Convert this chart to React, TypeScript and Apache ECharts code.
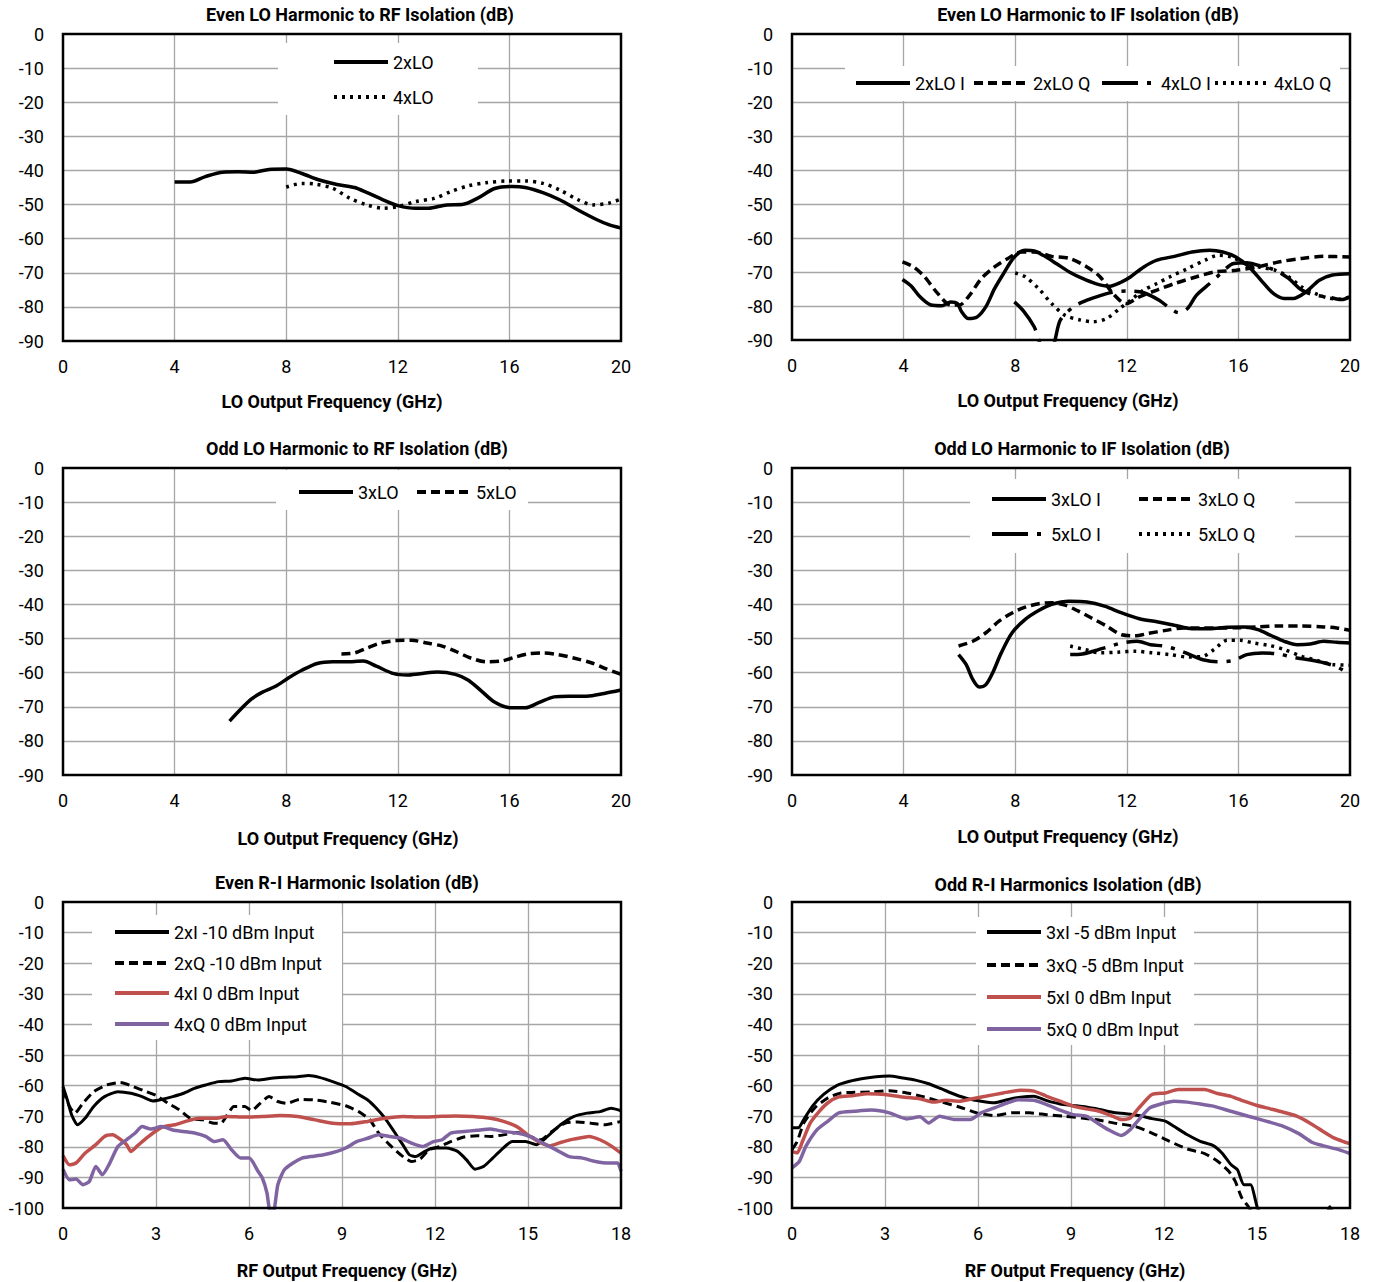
import React, { useEffect, useRef } from "react";
import * as echarts from "echarts";

type Pt = [number, number];

const FONT = "'Liberation Sans Narrow', 'Roboto', sans-serif";
const RED = "#C0504D";
const PURPLE = "#8064A2";
const GRIDC = "#A6A6A6";

// ---------- Chart titles / axis names ----------
const titles = [
  "Even LO Harmonic to RF Isolation (dB)",
  "Even LO Harmonic to IF Isolation (dB)",
  "Odd LO Harmonic to RF Isolation (dB)",
  "Odd LO Harmonic to IF Isolation (dB)",
  "Even R-I Harmonic Isolation (dB)",
  "Odd R-I Harmonics Isolation (dB)",
];
const xNames = [
  "LO Output Frequency (GHz)",
  "LO Output Frequency (GHz)",
  "LO Output Frequency (GHz)",
  "LO Output Frequency (GHz)",
  "RF Output Frequency (GHz)",
  "RF Output Frequency (GHz)",
];
const loXRange = [0, 20, 4];
const rfXRange = [0, 18, 3];
const loYRange = [-90, 0, 10];
const rfYRange = [-100, 0, 10];

// ---------- Chart 1: Even LO harmonic to RF ----------
const evenRF_2xLO: Pt[] = [[4,-43.4],[4.56,-43.4],[5.1,-41.8],[5.73,-40.5],[6.28,-40.4],[6.83,-40.5],[7.38,-39.7],[8,-39.6],[8.56,-40.9],[9.19,-42.8],[9.82,-44.1],[10.45,-45],[10.9,-46.5],[11.47,-48.6],[12,-50.3],[12.65,-51.1],[13.1,-51.1],[13.75,-50.1],[14.3,-50],[14.85,-48.2],[15.47,-45.3],[16.1,-44.7],[16.57,-45],[17.2,-46.5],[17.8,-48.6],[18.46,-51.6],[19.1,-54.3],[19.56,-55.9],[20,-56.9]];
const evenRF_4xLO: Pt[] = [[8,-44.9],[8.56,-43.8],[9.03,-44],[9.66,-45.2],[10.29,-48.2],[10.9,-50.1],[11.47,-51.1],[12,-50.6],[12.65,-49.1],[13.3,-48.2],[13.9,-46.2],[14.53,-44.5],[15.16,-43.6],[15.95,-43.1],[16.57,-43.1],[17.2,-43.8],[17.8,-45.7],[18.46,-48.6],[19,-50.1],[19.56,-49.6],[20,-48.4]];

// ---------- Chart 2: Even LO harmonic to IF ----------
const evenIF_2xLOI: Pt[] = [[3.96,-72.2],[4.28,-74.2],[4.59,-77.3],[4.98,-79.7],[5.38,-79.9],[5.69,-78.8],[5.93,-79.3],[6.08,-81.7],[6.32,-83.7],[6.64,-83.2],[6.95,-80.2],[7.26,-74.9],[7.58,-70.5],[7.97,-65.6],[8.36,-63.6],[8.68,-63.8],[9,-65.1],[9.47,-67.5],[9.94,-70],[10.41,-71.9],[10.88,-73.4],[11.35,-74.2],[11.82,-72.9],[12.14,-71.4],[12.61,-68.5],[13.08,-66.5],[13.71,-65.4],[14.34,-64.1],[14.97,-63.6],[15.44,-64.1],[15.91,-65.6],[16.38,-68.5],[16.86,-72.9],[17.25,-76.3],[17.64,-77.8],[17.96,-77.8],[18.43,-75.8],[18.9,-72.4],[19.37,-70.9],[20,-70.5]];
const evenIF_2xLOQ: Pt[] = [[3.96,-67],[4.36,-68.5],[4.75,-71.4],[5.22,-76.3],[5.69,-79.7],[6,-79.7],[6.32,-77.3],[6.79,-71.9],[7.26,-68.5],[7.74,-66],[8.21,-64.1],[8.68,-64.1],[9.31,-65.4],[9.94,-66],[10.57,-68.5],[11.04,-71.4],[11.5,-76.3],[11.98,-79.3],[12.45,-77.3],[13.08,-75.3],[13.71,-73.4],[14.5,-71.4],[15.13,-70],[15.91,-69.5],[16.7,-68.5],[17.48,-67],[18.27,-66],[19.06,-65.4],[20,-65.6]];
const evenIF_4xLOI: Pt[] = [[7.97,-78.8],[8.3,-81.5],[8.68,-86.1],[9,-92],[9.3,-92],[9.62,-84.1],[10.1,-80.2],[10.57,-78.3],[11.1,-76.8],[11.57,-75.8],[12.14,-75.6],[12.61,-76.1],[13.16,-78.3],[13.55,-80.7],[13.87,-82],[14.18,-80.7],[14.5,-76.8],[14.97,-73.4],[15.36,-70.5],[15.83,-67.5],[16.3,-67.3],[16.7,-68],[17.33,-69.5],[17.8,-71.9],[18.27,-75.3],[18.74,-76.8],[19.2,-77.3],[19.69,-78.1],[20,-77.3]];
const evenIF_4xLOQ: Pt[] = [[8,-70.3],[8.36,-71.4],[8.84,-74.9],[9.31,-79.3],[9.78,-82.7],[10.33,-84.1],[10.8,-84.6],[11.27,-83.7],[11.75,-80.7],[12.14,-78.3],[12.61,-75.3],[13.08,-73.4],[13.55,-71.4],[14.18,-69],[14.81,-66.5],[15.28,-65.1],[15.75,-65.6],[16.23,-67.5],[16.7,-68.5],[17.33,-69.5],[17.8,-71.4],[18.27,-74.4],[18.74,-76.3],[19.2,-77.6],[19.69,-78],[20,-77.3]];

// ---------- Chart 3: Odd LO harmonic to RF ----------
const oddRF_3xLO: Pt[] = [[5.97,-74.2],[6.36,-70.8],[6.76,-67.7],[7.15,-65.7],[7.62,-64],[8.09,-61.5],[8.56,-59.3],[9.11,-57.3],[9.66,-56.8],[10.13,-56.8],[10.76,-56.6],[11.23,-58.1],[11.86,-60.3],[12.33,-60.7],[12.8,-60.3],[13.43,-59.8],[14.06,-60.5],[14.53,-62.2],[15,-65.4],[15.48,-68.7],[16.03,-70.3],[16.57,-70.3],[17.05,-68.8],[17.6,-67.1],[18.15,-66.9],[18.77,-66.9],[19.4,-66.1],[20,-65.1]];
const oddRF_5xLO: Pt[] = [[9.98,-54.5],[10.45,-54.2],[10.92,-52.7],[11.39,-51.3],[11.94,-50.6],[12.49,-50.5],[13.04,-51.3],[13.59,-52.2],[14.06,-53.7],[14.61,-55.7],[15.16,-56.8],[15.71,-56.6],[16.18,-55.5],[16.65,-54.5],[17.2,-54.2],[17.75,-54.7],[18.3,-55.7],[18.93,-57.1],[19.48,-58.9],[20,-60.5]];

// ---------- Chart 4: Odd LO harmonic to IF ----------
const oddIF_3xLOI: Pt[] = [[5.97,-54.7],[6.24,-57.6],[6.48,-62],[6.71,-64.2],[6.95,-63.5],[7.19,-60.1],[7.5,-54.2],[7.89,-48.3],[8.36,-44.4],[8.84,-41.8],[9.31,-40],[9.94,-39.1],[10.57,-39.3],[11.2,-40.5],[11.82,-42.5],[12.45,-44.2],[13.08,-45.1],[13.71,-46.1],[14.34,-47.1],[14.97,-47.1],[15.6,-46.7],[16.23,-46.6],[16.7,-47.4],[17.17,-49.1],[17.64,-50.8],[18.11,-51.8],[18.58,-51.6],[19.06,-50.8],[19.53,-51.1],[20,-51.3]];
const oddIF_3xLOQ: Pt[] = [[5.97,-52.2],[6.48,-50.8],[6.95,-48.3],[7.42,-44.9],[7.89,-42.5],[8.36,-40.8],[8.84,-39.8],[9.31,-39.5],[9.78,-40.2],[10.25,-41.9],[10.72,-43.9],[11.27,-46.3],[11.82,-48.9],[12.29,-49.2],[12.77,-48.5],[13.4,-47.6],[14.03,-46.9],[14.65,-46.9],[15.28,-46.9],[16.07,-46.8],[16.7,-46.6],[17.48,-46.3],[18.27,-46.3],[19.06,-46.6],[19.53,-46.9],[20,-47.6]];
const oddIF_5xLOI: Pt[] = [[9.97,-54.7],[10.41,-54.5],[10.88,-53.5],[11.35,-52.4],[11.82,-51.3],[12.37,-50.8],[12.85,-51.8],[13.32,-52.2],[13.79,-53.2],[14.26,-54.7],[14.73,-56.2],[15.28,-56.8],[15.83,-56.4],[16.3,-54.7],[16.86,-54.2],[17.41,-54.5],[17.96,-55.5],[18.58,-56.3],[19.06,-57.1],[19.53,-58.3],[19.92,-60.1],[20,-60.4]];
const oddIF_5xLOQ: Pt[] = [[9.97,-52.2],[10.49,-53.2],[11.04,-54.2],[11.67,-54],[12.3,-53.7],[12.92,-54.2],[13.55,-54.7],[14.18,-55.4],[14.73,-55.2],[15.13,-53.2],[15.6,-50.5],[16.07,-50.5],[16.54,-51.3],[17.1,-52],[17.64,-53.2],[18.27,-55.2],[18.9,-56.6],[19.37,-57.6],[20,-57.8]];

// ---------- Chart 5: Even R-I harmonic ----------
const evenRI_2xI: Pt[] = [[0,-60.3],[0.14,-64.7],[0.28,-69.6],[0.47,-72.8],[0.71,-70.7],[0.99,-66.8],[1.34,-63.6],[1.77,-62],[2.19,-62.5],[2.55,-63.6],[2.9,-65],[3.18,-64.5],[3.54,-63.6],[3.89,-62.5],[4.24,-60.9],[4.6,-59.8],[5.02,-58.7],[5.44,-58.5],[5.87,-57.6],[6.29,-58.2],[6.72,-57.6],[7.14,-57.3],[7.57,-57.1],[7.92,-56.7],[8.27,-57.3],[8.7,-58.7],[9.12,-60.3],[9.47,-62.5],[9.83,-64.7],[10.11,-67.4],[10.39,-70.7],[10.68,-75],[10.96,-79.3],[11.17,-82.6],[11.38,-83.2],[11.67,-81.5],[11.95,-80.4],[12.37,-80.4],[12.73,-81.5],[13.01,-84.2],[13.29,-87.3],[13.57,-86.4],[13.86,-83.7],[14.14,-81],[14.49,-78.3],[14.92,-78.3],[15.27,-79.3],[15.63,-76.6],[16.05,-72.8],[16.47,-70.1],[16.9,-69],[17.32,-68.5],[17.68,-67.4],[18,-68.2]];
const evenRI_2xQ: Pt[] = [[0,-61.4],[0.21,-66.8],[0.38,-69],[0.64,-65.8],[0.99,-62],[1.41,-59.8],[1.84,-59],[2.26,-60.3],[2.69,-62],[3.04,-63.4],[3.39,-65.8],[3.75,-67.9],[4.1,-70.7],[4.52,-71.2],[4.88,-72.3],[5.09,-72.3],[5.3,-69.6],[5.51,-66.8],[5.87,-66.8],[6.08,-68.2],[6.36,-65.8],[6.65,-63.6],[6.93,-65.2],[7.21,-65.8],[7.64,-64.5],[8.13,-64.7],[8.63,-65.5],[9.12,-66.6],[9.54,-68.5],[9.9,-71.2],[10.18,-75.5],[10.53,-79.3],[10.89,-82.6],[11.24,-84.8],[11.52,-84],[11.81,-81],[12.16,-79.9],[12.51,-78.3],[12.94,-76.8],[13.36,-76.4],[13.79,-76.6],[14.21,-76.1],[14.64,-75.3],[15.06,-76.6],[15.41,-77.7],[15.77,-75],[16.19,-72.3],[16.61,-71.9],[17.04,-72.3],[17.46,-72.8],[18,-71.7]];
const evenRI_4xI: Pt[] = [[0,-82.9],[0.21,-85.9],[0.42,-85.3],[0.71,-82.1],[1.06,-79.3],[1.34,-76.6],[1.6,-76.1],[1.84,-77.5],[2.05,-79.3],[2.19,-81.5],[2.4,-79.7],[2.69,-77.2],[2.97,-75],[3.25,-73.4],[3.61,-72.8],[3.96,-71.7],[4.38,-70.7],[4.88,-70.7],[5.3,-70.1],[5.87,-70.3],[6.43,-70.1],[7,-69.8],[7.57,-70.1],[8.13,-71.2],[8.7,-72.3],[9.26,-72.5],[9.83,-71.7],[10.39,-70.7],[10.96,-70.1],[11.52,-70.3],[12.09,-70.1],[12.66,-69.9],[13.22,-70.1],[13.79,-70.7],[14.21,-71.7],[14.64,-73.4],[14.99,-76.1],[15.34,-78.3],[15.7,-79.7],[16.05,-78.6],[16.47,-77.5],[16.97,-76.6],[17.32,-77.7],[17.68,-79.7],[18,-82.1]];
const evenRI_4xQ: Pt[] = [[0,-87.3],[0.21,-90.8],[0.42,-90.5],[0.64,-92.4],[0.85,-91.3],[1.06,-86.4],[1.27,-89.1],[1.48,-85.9],[1.77,-79.9],[2.05,-77.7],[2.33,-75.5],[2.55,-73.4],[2.83,-74.2],[3.18,-73.4],[3.54,-74.5],[3.89,-75],[4.24,-75.5],[4.6,-76.6],[4.88,-78.3],[5.16,-77.7],[5.44,-81],[5.73,-83.7],[6.01,-83.7],[6.29,-88],[6.43,-90.2],[6.58,-95.1],[6.68,-101],[6.79,-101],[6.93,-92.4],[7.14,-87.5],[7.42,-85.3],[7.71,-83.7],[7.99,-83.2],[8.41,-82.6],[8.84,-81.5],[9.12,-80.4],[9.47,-78.3],[9.83,-77.2],[10.18,-76.1],[10.53,-76.6],[10.89,-77.2],[11.24,-78.8],[11.6,-79.9],[11.95,-78.3],[12.23,-77.7],[12.51,-75.5],[12.94,-75],[13.36,-74.6],[13.79,-74.2],[14.21,-75],[14.64,-75.5],[15.06,-76.6],[15.48,-78.8],[15.91,-81],[16.33,-83.2],[16.76,-83.7],[17.18,-84.8],[17.6,-85.3],[17.89,-85.3],[18,-88]];

// ---------- Chart 6: Odd R-I harmonics ----------
const oddRI_3xI: Pt[] = [[0,-73.8],[0.2,-73.8],[0.38,-71.1],[0.66,-66.7],[1.02,-62.9],[1.44,-60],[1.86,-58.6],[2.29,-57.7],[2.71,-57.1],[3.14,-56.9],[3.56,-57.5],[3.98,-58.2],[4.41,-59.4],[4.83,-61.1],[5.26,-62.9],[5.68,-64.3],[6.1,-65.1],[6.53,-65.6],[6.95,-64.6],[7.37,-63.8],[7.8,-63.5],[8.22,-64.9],[8.65,-66],[9.07,-66.5],[9.49,-67],[9.92,-67.8],[10.34,-68.7],[10.77,-69.2],[11.19,-69.8],[11.61,-70.8],[12.04,-71.6],[12.32,-73.3],[12.74,-76],[13.17,-78.2],[13.59,-79.6],[13.87,-82],[14.16,-85.8],[14.37,-87.5],[14.58,-92.4],[14.79,-92.4],[15,-99.5],[15.07,-101],[16,-115],[17.25,-102],[17.35,-99.6],[17.45,-102],[18,-115]];
const oddRI_3xQ: Pt[] = [[0,-80.9],[0.17,-78.2],[0.38,-72.2],[0.73,-67.3],[1.16,-64],[1.58,-62.4],[2.01,-62.2],[2.57,-62.1],[3.14,-61.7],[3.7,-62.4],[4.27,-63.7],[4.83,-65.4],[5.4,-67],[5.96,-68.9],[6.53,-69.8],[7.09,-68.9],[7.66,-68.9],[8.22,-69.5],[8.79,-70],[9.35,-70.6],[9.92,-71.3],[10.48,-72.4],[11.05,-73.3],[11.61,-75.5],[12.18,-78.2],[12.74,-80.7],[13.31,-82.2],[13.73,-84.7],[14.09,-88],[14.3,-91.3],[14.51,-96.7],[14.72,-99.5],[14.86,-102]];
const oddRI_5xI: Pt[] = [[0,-81.5],[0.17,-82],[0.34,-78.2],[0.59,-72.2],[0.88,-68.4],[1.16,-65.6],[1.51,-63.7],[1.94,-63.3],[2.43,-62.7],[3,-62.9],[3.56,-63.7],[4.13,-64.3],[4.55,-65.4],[4.97,-64.8],[5.4,-65.1],[5.82,-64.3],[6.24,-63.5],[6.81,-62.4],[7.37,-61.5],[7.8,-61.8],[8.22,-63.5],[8.65,-65.1],[9.07,-66.7],[9.49,-67.6],[9.92,-68.4],[10.34,-70],[10.62,-71.1],[10.91,-70.6],[11.19,-67.3],[11.61,-62.9],[12.04,-62.4],[12.46,-61.3],[12.88,-61.3],[13.31,-61.3],[13.73,-62.6],[14.16,-63.5],[14.58,-65.1],[15,-66.5],[15.43,-67.6],[15.85,-68.7],[16.28,-70],[16.7,-72.2],[17.12,-74.9],[17.48,-77.1],[17.76,-78.2],[18,-79]];
const oddRI_5xQ: Pt[] = [[0,-86.9],[0.24,-84.7],[0.45,-79.8],[0.81,-74.4],[1.16,-71.6],[1.51,-68.9],[2.01,-68.4],[2.57,-68],[3.14,-68.9],[3.7,-70.9],[4.13,-70.2],[4.41,-72.2],[4.76,-70],[5.26,-71.1],[5.75,-71.1],[6.1,-68.9],[6.53,-67.3],[6.95,-65.6],[7.3,-64.6],[7.8,-64.8],[8.22,-66.2],[8.65,-68],[9.07,-69.5],[9.49,-70],[9.85,-72.2],[10.2,-74.4],[10.62,-76.3],[10.91,-74.4],[11.19,-71.1],[11.54,-67.3],[11.9,-66],[12.32,-65.1],[12.74,-65.4],[13.17,-66],[13.59,-66.7],[14.16,-68.4],[14.72,-70],[15.29,-71.6],[15.85,-73.3],[16.35,-75.7],[16.77,-78.5],[17.12,-79.6],[17.55,-80.7],[18,-82.2]];

// ---------- layout (pixels) ----------
const GRIDS = [
  { left: 63, top: 34, width: 558, height: 307 },
  { left: 792, top: 34, width: 558, height: 306 },
  { left: 63, top: 468, width: 558, height: 307 },
  { left: 792, top: 468, width: 558, height: 307 },
  { left: 63, top: 902, width: 558, height: 306 },
  { left: 792, top: 902, width: 558, height: 306 },
];
const TITLE_POS = [[360, 14], [1088, 14], [357, 448], [1082, 448], [347, 882], [1068, 884]];
const NAME_GAP = [51, 51, 54, 52, 53, 53];
const NAME_SHIFT = [-10, -3, 6, -3, 5, 4];
const LEGEND_BOXES = [
  [278, 43, 200, 72],
  [845, 66, 495, 35],
  [276, 470, 252, 40],
  [970, 479, 325, 74],
  [92, 915, 250, 125],
  [976, 917, 218, 128],
];

const DASH = [9, 5];
const DOT = [3, 5];
const LDASHDOT = [36, 9, 4, 9];

function line(name: string, data: Pt[], idx: number, color: string, width: number, type: any, smooth: number | boolean) {
  return {
    name,
    type: "line",
    xAxisIndex: idx,
    yAxisIndex: idx,
    data,
    symbol: "none",
    showSymbol: false,
    smooth,
    clip: true,
    silent: true,
    z: 2,
    itemStyle: { color },
    lineStyle: { color, width, type, cap: "butt" },
  };
}

// legend entry: name, icon left x, row center y
const LEGEND_ITEMS: [string, number, number][] = [
  ["2xLO", 332, 62], ["4xLO", 332, 97],
  ["2xLO I", 854, 83], ["2xLO Q", 972, 83], ["4xLO I", 1100, 83], ["4xLO Q", 1213, 83],
  ["3xLO", 297, 492], ["5xLO", 415, 492],
  ["3xLO I", 990, 499], ["3xLO Q", 1137, 499], ["5xLO I", 990, 534], ["5xLO Q", 1137, 534],
  ["2xI -10 dBm Input", 113, 932], ["2xQ -10 dBm Input", 113, 963], ["4xI 0 dBm Input", 113, 993], ["4xQ 0 dBm Input", 113, 1024],
  ["3xI -5 dBm Input", 985, 932], ["3xQ -5 dBm Input", 985, 965], ["5xI 0 dBm Input", 985, 997], ["5xQ 0 dBm Input", 985, 1029],
];

export default function App() {
  const ref = useRef<HTMLDivElement>(null);
  useEffect(() => {
    if (!ref.current) return;
    const chart = echarts.init(ref.current, undefined, { renderer: "svg" });
    const S = 0.3;
    const series = [
      line("2xLO", evenRF_2xLO, 0, "#000", 3.5, "solid", S),
      line("4xLO", evenRF_4xLO, 0, "#000", 3.5, DOT, S),
      line("2xLO I", evenIF_2xLOI, 1, "#000", 3.5, "solid", S),
      line("2xLO Q", evenIF_2xLOQ, 1, "#000", 3.5, DASH, S),
      line("4xLO I", evenIF_4xLOI, 1, "#000", 3.5, LDASHDOT, S),
      line("4xLO Q", evenIF_4xLOQ, 1, "#000", 3.5, DOT, S),
      line("3xLO", oddRF_3xLO, 2, "#000", 3.5, "solid", S),
      line("5xLO", oddRF_5xLO, 2, "#000", 3.5, DASH, S),
      line("3xLO I", oddIF_3xLOI, 3, "#000", 3.5, "solid", S),
      line("3xLO Q", oddIF_3xLOQ, 3, "#000", 3.5, DASH, S),
      line("5xLO I", oddIF_5xLOI, 3, "#000", 3.5, LDASHDOT, S),
      line("5xLO Q", oddIF_5xLOQ, 3, "#000", 3.5, DOT, S),
      line("2xI -10 dBm Input", evenRI_2xI, 4, "#000", 3, "solid", 0.2),
      line("2xQ -10 dBm Input", evenRI_2xQ, 4, "#000", 3, DASH, 0.2),
      line("4xI 0 dBm Input", evenRI_4xI, 4, RED, 3.5, "solid", 0.2),
      line("4xQ 0 dBm Input", evenRI_4xQ, 4, PURPLE, 3.5, "solid", 0.2),
      line("3xI -5 dBm Input", oddRI_3xI, 5, "#000", 3, "solid", 0.2),
      line("3xQ -5 dBm Input", oddRI_3xQ, 5, "#000", 3, DASH, 0.2),
      line("5xI 0 dBm Input", oddRI_5xI, 5, RED, 3.5, "solid", 0.2),
      line("5xQ 0 dBm Input", oddRI_5xQ, 5, PURPLE, 3.5, "solid", 0.2),
    ];

    const axisText = { fontFamily: FONT, fontSize: 18, color: "#000" };
    const split = { show: true, showMinLine: false, showMaxLine: false, lineStyle: { color: GRIDC, width: 1.3 } };

    const xAxis = GRIDS.map((_, i) => {
      const r = i < 4 ? loXRange : rfXRange;
      const shift = NAME_SHIFT[i];
      return {
        gridIndex: i,
        type: "value",
        min: r[0],
        max: r[1],
        interval: r[2],
        axisLine: { show: false },
        axisTick: { show: false },
        splitLine: split,
        axisLabel: { ...axisText, margin: 16 },
        name: xNames[i],
        nameLocation: "middle",
        nameGap: NAME_GAP[i],
        nameTextStyle: {
          fontFamily: FONT,
          fontSize: 18,
          fontWeight: "bold",
          color: "#000",
          padding: shift < 0 ? [0, -2 * shift, 0, 0] : [0, 0, 0, 2 * shift],
        },
      };
    });
    const yAxis = GRIDS.map((_, i) => {
      const r = i < 4 ? loYRange : rfYRange;
      return {
        gridIndex: i,
        type: "value",
        min: r[0],
        max: r[1],
        interval: r[2],
        axisLine: { show: false },
        axisTick: { show: false },
        splitLine: split,
        axisLabel: { ...axisText, margin: 19 },
      };
    });

    const legend = LEGEND_ITEMS.map(([name, x, y]) => ({
      data: [name],
      left: x,
      top: y - 10,
      orient: "horizontal",
      itemWidth: 54,
      itemHeight: 14,
      padding: 0,
      itemGap: 0,
      selectedMode: false,
      z: 5,
      textStyle: { fontFamily: FONT, fontSize: 18, color: "#000", lineHeight: 20 },
      itemStyle: { color: "rgba(0,0,0,0)", borderColor: "rgba(0,0,0,0)", borderWidth: 0, opacity: 0 },
      lineStyle: { width: 4 },
    }));

    const graphic: any[] = [
      ...LEGEND_BOXES.map(([x, y, w, h]) => ({
        type: "rect",
        shape: { x, y, width: w, height: h },
        style: { fill: "#fff" },
        z: 1,
        silent: true,
      })),
      ...titles.map((t, i) => ({
        type: "text",
        x: TITLE_POS[i][0],
        y: TITLE_POS[i][1],
        z: 5,
        silent: true,
        style: {
          text: t,
          fontFamily: FONT,
          fontSize: 18,
          fontWeight: "bold",
          fill: "#000",
          align: "center",
          verticalAlign: "middle",
        },
      })),
    ];

    chart.setOption({
      animation: false,
      backgroundColor: "#fff",
      grid: GRIDS.map((g) => ({ ...g, show: true, borderColor: "#000", borderWidth: 2.5, z: 3 })),
      xAxis,
      yAxis,
      legend,
      graphic,
      series,
    });
    return () => chart.dispose();
  }, []);
  return <div ref={ref} style={{ position: "absolute", left: 0, top: 0, width: 1374, height: 1282 }} />;
}
